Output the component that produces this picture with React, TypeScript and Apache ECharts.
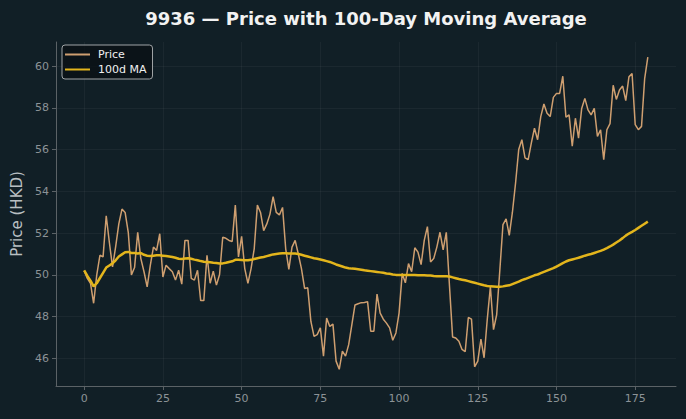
import React, { useEffect, useRef } from "react";
import * as echarts from "echarts";

// Daily closing price of 9936, one value per trading day (index 0..179)
const price: number[] = [
  50.2, 49.83, 49.6, 48.64, 50.0, 50.94, 50.86, 52.83, 51.55, 50.38,
  51.35, 52.44, 53.15, 52.99, 52.04, 50.0, 50.35, 52.04, 50.78, 50.15,
  49.43, 50.46, 51.33, 51.17, 51.97, 49.9, 50.46, 50.3, 50.15, 49.75,
  50.22, 49.56, 51.65, 51.65, 49.83, 49.75, 50.22, 48.77, 48.77, 50.94,
  49.6, 50.18, 49.51, 50.02, 51.8, 51.75, 51.65, 51.6, 53.34, 50.86,
  51.85, 50.3, 49.59, 50.3, 51.25, 53.34, 52.99, 52.12, 52.44, 52.91,
  53.75, 52.99, 52.87, 53.23, 51.25, 50.26, 51.33, 51.65, 51.0, 50.3,
  49.35, 49.38, 47.77, 47.06, 47.14, 47.46, 46.11, 47.93, 47.53, 47.64,
  45.87, 45.48, 46.35, 46.11, 46.66, 47.61, 48.56, 48.62, 48.67, 48.68,
  48.72, 47.3, 47.3, 49.08, 48.17, 47.88, 47.69, 47.46, 46.87, 47.22,
  48.17, 50.07, 49.62, 50.54, 50.15, 51.3, 51.09, 50.49, 51.65, 52.31,
  50.62, 50.78, 51.33, 52.04, 51.2, 52.04, 49.5, 47.03, 46.98, 46.82,
  46.43, 46.32, 47.96, 47.88, 45.6, 45.87, 46.93, 46.03, 47.85, 49.43,
  47.38, 48.09, 50.22, 52.41, 52.68, 51.89, 53.0, 54.4, 56.0, 56.47,
  55.6, 55.52, 56.31, 57.02, 56.47, 57.58, 58.18, 57.74, 57.58, 58.5,
  58.69, 58.69, 59.51, 57.55, 57.66, 56.16, 57.5, 56.55, 57.97, 58.45,
  57.9, 57.66, 57.97, 56.63, 56.95, 55.52, 56.95, 57.24, 59.08, 58.4,
  58.85, 59.04, 58.34, 59.48, 59.64, 57.19, 56.95, 57.11, 59.4, 60.43,
];

// 100-day moving average of the close, one value per day
const ma100: number[] = [
  50.22, 49.95, 49.72, 49.45, 49.6, 49.85, 50.1, 50.35, 50.45, 50.55,
  50.7, 50.88, 50.98, 51.08, 51.1, 51.05, 51.05, 51.02, 51.05, 50.96,
  50.92, 50.9, 50.92, 50.94, 50.94, 50.92, 50.9, 50.88, 50.86, 50.82,
  50.77, 50.76, 50.78, 50.8, 50.77, 50.73, 50.7, 50.66, 50.63, 50.62,
  50.6, 50.58, 50.57, 50.55, 50.55, 50.58, 50.62, 50.65, 50.72, 50.72,
  50.71, 50.7, 50.7, 50.72, 50.76, 50.8, 50.83, 50.86, 50.9, 50.94,
  50.98, 51.0, 51.02, 51.03, 51.03, 51.02, 51.02, 51.02, 51.0, 50.96,
  50.92, 50.88, 50.84, 50.8, 50.77, 50.74, 50.7, 50.66, 50.62, 50.56,
  50.5, 50.45, 50.4, 50.35, 50.32, 50.3, 50.29, 50.27, 50.25, 50.22,
  50.2, 50.18, 50.16, 50.14, 50.12, 50.1, 50.07, 50.05, 50.02, 50.0,
  49.99, 49.99, 49.99, 49.99, 49.99, 49.99, 49.98, 49.98, 49.98, 49.97,
  49.97, 49.95, 49.94, 49.94, 49.94, 49.94, 49.92, 49.88, 49.84, 49.8,
  49.77, 49.74, 49.7, 49.66, 49.62, 49.58, 49.54, 49.5, 49.47, 49.45,
  49.44, 49.43, 49.43, 49.45, 49.48, 49.5, 49.56, 49.62, 49.68, 49.75,
  49.8, 49.86, 49.92, 49.98, 50.02, 50.08, 50.14, 50.2, 50.26, 50.32,
  50.4, 50.48, 50.56, 50.64, 50.7, 50.74, 50.78, 50.82, 50.87, 50.92,
  50.96, 51.0, 51.05, 51.1, 51.15, 51.21, 51.28, 51.36, 51.45, 51.55,
  51.65, 51.76, 51.88, 51.98, 52.06, 52.15, 52.25, 52.35, 52.45, 52.55,
];

const xTicks: number[] = [0, 25, 50, 75, 100, 125, 150, 175];
const yTicks: number[] = [46, 48, 50, 52, 54, 56, 58, 60];

const BG = "#111f26";
const PRICE_COLOR = "#cf9f70";
const MA_COLOR = "#e3b51c";
const AXIS_COLOR = "#5b6266";
const LABEL_COLOR = "#8c9397";
const GRID_COLOR = "rgba(255,255,255,0.045)";
const FONT = "DejaVu Sans";

export default function App() {
  const ref = useRef<HTMLDivElement>(null);

  useEffect(() => {
    if (!ref.current) return;
    const chart = echarts.init(ref.current, undefined, { renderer: "svg" });

    const priceData = price.map((v, i) => [i, v]);
    const maData = ma100.map((v, i) => [i, v]);

    chart.setOption({
      animation: false,
      backgroundColor: BG,
      textStyle: { fontFamily: FONT },
      graphic: [
        {
          type: "text",
          x: 366,
          y: 18,
          style: {
            text: "9936 — Price with 100-Day Moving Average",
            fill: "#f2f2f2",
            font: `bold 18px '${FONT}'`,
            textAlign: "center",
            textVerticalAlign: "middle",
          },
        },
      ],
      legend: {
        left: 62,
        top: 45,
        orient: "vertical",
        backgroundColor: "rgba(10,18,22,0.85)",
        borderColor: "#a0a4a6",
        borderWidth: 1,
        borderRadius: 3,
        padding: [3, 6, 3, 3],
        itemGap: 2,
        itemWidth: 25,
        itemHeight: 2,
        textStyle: {
          color: "#f0f0f0",
          fontSize: 11,
          fontFamily: FONT,
          lineHeight: 13,
          padding: [0, 0, 0, 3],
        },
        data: [
          { name: "Price", icon: "rect", itemStyle: { color: PRICE_COLOR } },
          { name: "100d MA", icon: "rect", itemStyle: { color: MA_COLOR } },
        ],
      },
      grid: { left: 56, right: 10, top: 42, bottom: 33 },
      xAxis: {
        type: "value",
        min: -8.95,
        max: 187.95,
        axisLine: { show: true, onZero: false, lineStyle: { color: AXIS_COLOR } },
        axisTick: {
          show: true,
          length: 4,
          customValues: xTicks,
          lineStyle: { color: AXIS_COLOR },
        },
        axisLabel: {
          customValues: xTicks,
          color: LABEL_COLOR,
          fontSize: 11,
          fontFamily: FONT,
          margin: 7,
        },
        splitLine: { show: true, lineStyle: { color: GRID_COLOR, width: 1 } },
      },
      yAxis: {
        type: "value",
        min: 44.68,
        max: 61.15,
        name: "Price (HKD)",
        nameLocation: "middle",
        nameGap: 31,
        nameTextStyle: { color: "#b9bfc2", fontSize: 15, fontFamily: FONT },
        axisLine: { show: true, onZero: false, lineStyle: { color: AXIS_COLOR } },
        axisTick: {
          show: true,
          length: 4,
          customValues: yTicks,
          lineStyle: { color: AXIS_COLOR },
        },
        axisLabel: {
          customValues: yTicks,
          color: LABEL_COLOR,
          fontSize: 11,
          fontFamily: FONT,
          margin: 7,
        },
        splitLine: { show: true, lineStyle: { color: GRID_COLOR, width: 1 } },
      },
      series: [
        {
          name: "Price",
          type: "line",
          data: priceData,
          showSymbol: false,
          symbol: "none",
          lineStyle: { color: PRICE_COLOR, width: 1.5 },
          itemStyle: { color: PRICE_COLOR },
          z: 2,
        },
        {
          name: "100d MA",
          type: "line",
          data: maData,
          showSymbol: false,
          symbol: "none",
          lineStyle: { color: MA_COLOR, width: 2.5 },
          itemStyle: { color: MA_COLOR },
          z: 3,
        },
      ],
    });

    return () => chart.dispose();
  }, []);

  return (
    <div
      ref={ref}
      style={{
        position: "fixed",
        left: 0,
        top: 0,
        width: 686,
        height: 419,
      }}
    />
  );
}
